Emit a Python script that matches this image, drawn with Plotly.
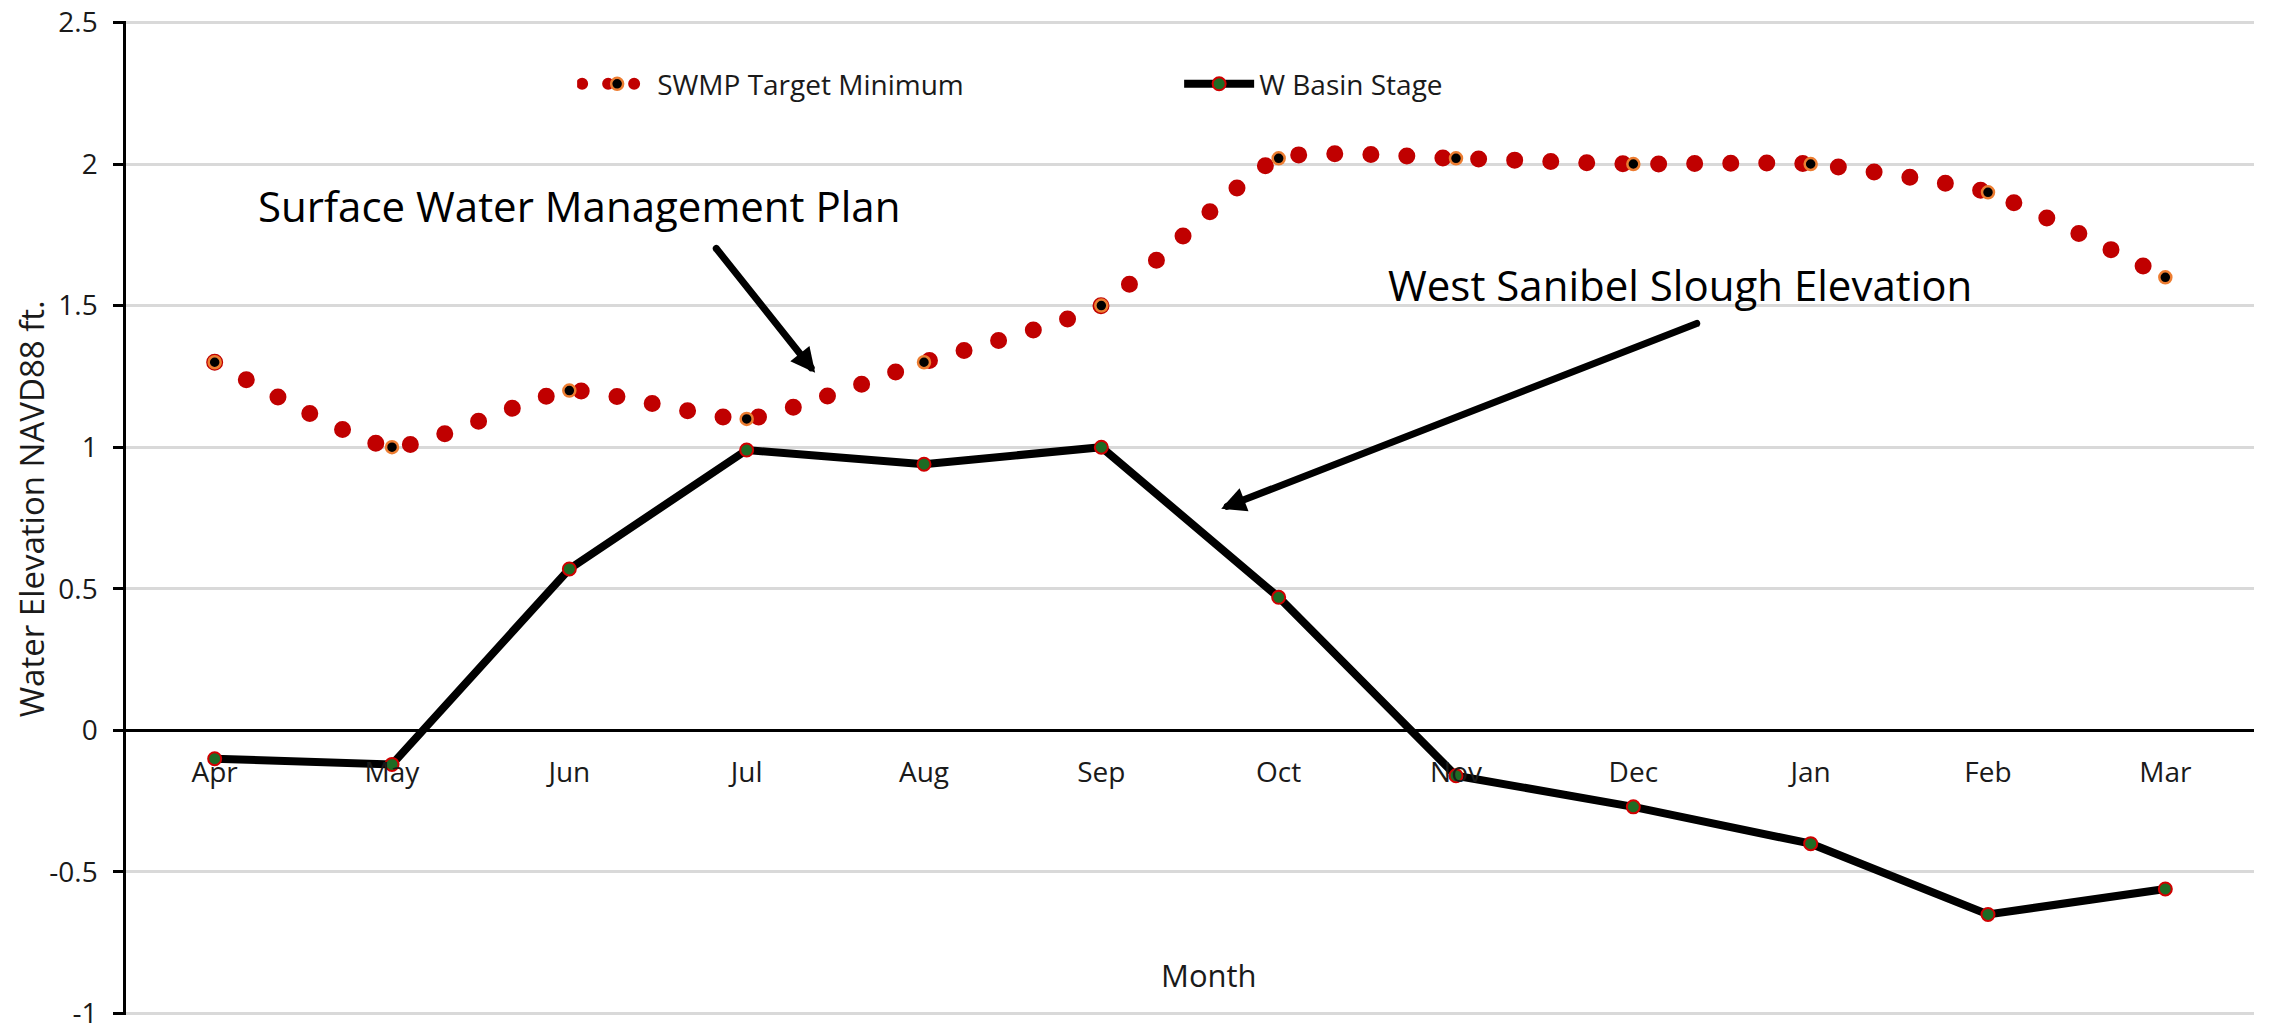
import plotly.graph_objects as go

MONTHS = ["Apr", "May", "Jun", "Jul", "Aug", "Sep", "Oct", "Nov", "Dec", "Jan", "Feb", "Mar"]
SWMP_TARGET_MIN = [1.30, 1.00, 1.20, 1.10, 1.30, 1.50, 2.02, 2.02, 2.00, 2.00, 1.90, 1.60]
W_BASIN_STAGE = [-0.10, -0.12, 0.57, 0.99, 0.94, 1.00, 0.47, -0.16, -0.27, -0.40, -0.65, -0.56]
Y_TICKS = [-1, -0.5, 0, 0.5, 1, 1.5, 2, 2.5]
Y_TICK_TEXT = ["-1", "-0.5", "0", "0.5", "1", "1.5", "2", "2.5"]
X_BOUNDARIES = [0.5, 1.5, 2.5, 3.5, 4.5, 5.5, 6.5, 7.5, 8.5, 9.5, 10.5]

FONT = "Open Sans, Lato, sans-serif"
TEXT = "#1a1a1a"
# a hair of padding so plotly keeps the gridlines at -1 and 2.5
Y_RANGE = [-1.005, 2.505]
X_CROSS = (0 - Y_RANGE[0]) / (Y_RANGE[1] - Y_RANGE[0])  # where y = 0 sits

fig = go.Figure()

fig.add_trace(go.Scatter(
    x=MONTHS, y=SWMP_TARGET_MIN, name="SWMP Target Minimum",
    mode="lines+markers",
    line=dict(color="#C00000", width=17, dash="0px,36px", shape="spline", smoothing=0.5),
    marker=dict(size=12, color="#000000", line=dict(color="#ED7D31", width=2.5)),
))
fig.add_trace(go.Scatter(
    x=MONTHS, y=W_BASIN_STAGE, name="W Basin Stage",
    mode="lines+markers",
    line=dict(color="#000000", width=8),
    marker=dict(size=13, color="#1E6B24", line=dict(color="#D00000", width=2)),
))

fig.update_layout(
    width=2279, height=1034,
    paper_bgcolor="white", plot_bgcolor="white",
    font=dict(family=FONT, color=TEXT, size=28),
    margin=dict(l=126, r=25, t=21, b=19, autoexpand=False),
    showlegend=True,
    legend=dict(
        orientation="h", x=0.212, y=0.9365, xanchor="left", yanchor="middle",
        font=dict(size=28, family=FONT, color=TEXT),
        itemwidth=70, entrywidth=517, entrywidthmode="pixels",
        bgcolor="rgba(0,0,0,0)",
    ),
    xaxis=dict(
        type="category", anchor="free", position=X_CROSS, automargin=False,
        range=[-0.5, 11.5], showgrid=False, zeroline=False,
        showline=True, linecolor="#000000", linewidth=2.5,
        ticks="", ticklabelstandoff=16, tickfont=dict(size=28, family=FONT, color=TEXT),
    ),
    xaxis2=dict(
        overlaying="x", anchor="free", position=X_CROSS, range=[-0.5, 11.5], automargin=False,
        tickvals=X_BOUNDARIES, ticks="outside", ticklen=9, tickwidth=2.5, tickcolor="#000000",
        showticklabels=False, showgrid=False, zeroline=False, showline=False,
    ),
    xaxis3=dict(
        overlaying="x", anchor="free", position=X_CROSS, range=[-0.5, 11.5], automargin=False,
        tickvals=X_BOUNDARIES, ticks="inside", ticklen=9, tickwidth=2.5, tickcolor="#000000",
        showticklabels=False, showgrid=False, zeroline=False, showline=False,
    ),
    yaxis=dict(
        range=Y_RANGE, tickvals=Y_TICKS, ticktext=Y_TICK_TEXT, automargin=False,
        showgrid=True, gridcolor="#d9d9d9", gridwidth=2.5, zeroline=False,
        showline=True, linecolor="#000000", linewidth=2.5,
        ticks="outside", ticklen=10, tickwidth=2.5, tickcolor="#000000",
        ticklabelstandoff=10, ticklabeloverflow="allow",
        tickfont=dict(size=28, family=FONT, color=TEXT),
    ),
    yaxis2=dict(
        overlaying="y", anchor="x", range=Y_RANGE, tickvals=Y_TICKS, automargin=False,
        ticks="inside", ticklen=10, tickwidth=2.5, tickcolor="#000000",
        showticklabels=False, showgrid=False, zeroline=False, showline=False,
    ),
)

# axis titles and callouts
fig.add_annotation(text="Water Elevation NAVD88 ft.", xref="paper", yref="paper",
                   x=-0.0445, y=0.509, xanchor="center", yanchor="middle", textangle=-90,
                   showarrow=False, font=dict(size=33, family=FONT, color=TEXT))
fig.add_annotation(text="Month", xref="paper", yref="paper", x=0.509, y=0.0398,
                   xanchor="center", yanchor="middle",
                   showarrow=False, font=dict(size=31, family=FONT, color=TEXT))
fig.add_annotation(text="Surface Water Management Plan", x=0.232, y=1.854, xanchor="left",
                   showarrow=False, font=dict(size=42, family=FONT, color="#000000"))
fig.add_annotation(text="West Sanibel Slough Elevation", x=6.607, y=1.574, xanchor="left",
                   showarrow=False, font=dict(size=42, family=FONT, color="#000000"))

for tip, tail in [((3.386, 1.263), (2.822, 1.707)), ((5.676, 0.783), (8.366, 1.439))]:
    fig.add_annotation(text="", x=tip[0], y=tip[1], ax=tail[0], ay=tail[1],
                       axref="x", ayref="y", showarrow=True,
                       arrowhead=2, arrowsize=0.7, arrowwidth=7, arrowcolor="#000000")

# drop the default page margin so the figure fills the window, and give the
# zero-length dashes round caps so the target line reads as dots
post = """
document.body.style.margin = '0';
var gd = document.getElementById('{plot_id}');
function roundDots(){
  gd.querySelectorAll('path').forEach(function(p){
    var d = p.style.strokeDasharray || '';
    if (d.indexOf('0px') === 0) {
      p.style.strokeLinecap = 'round';
      if (p.closest('.legend')) { p.style.strokeWidth = '12px'; p.style.strokeDasharray = '0px,26px'; }
    }
  });
}
roundDots();
gd.on('plotly_afterplot', roundDots);
"""

fig.write_html("out.html", post_script=post, config={"displayModeBar": False})
